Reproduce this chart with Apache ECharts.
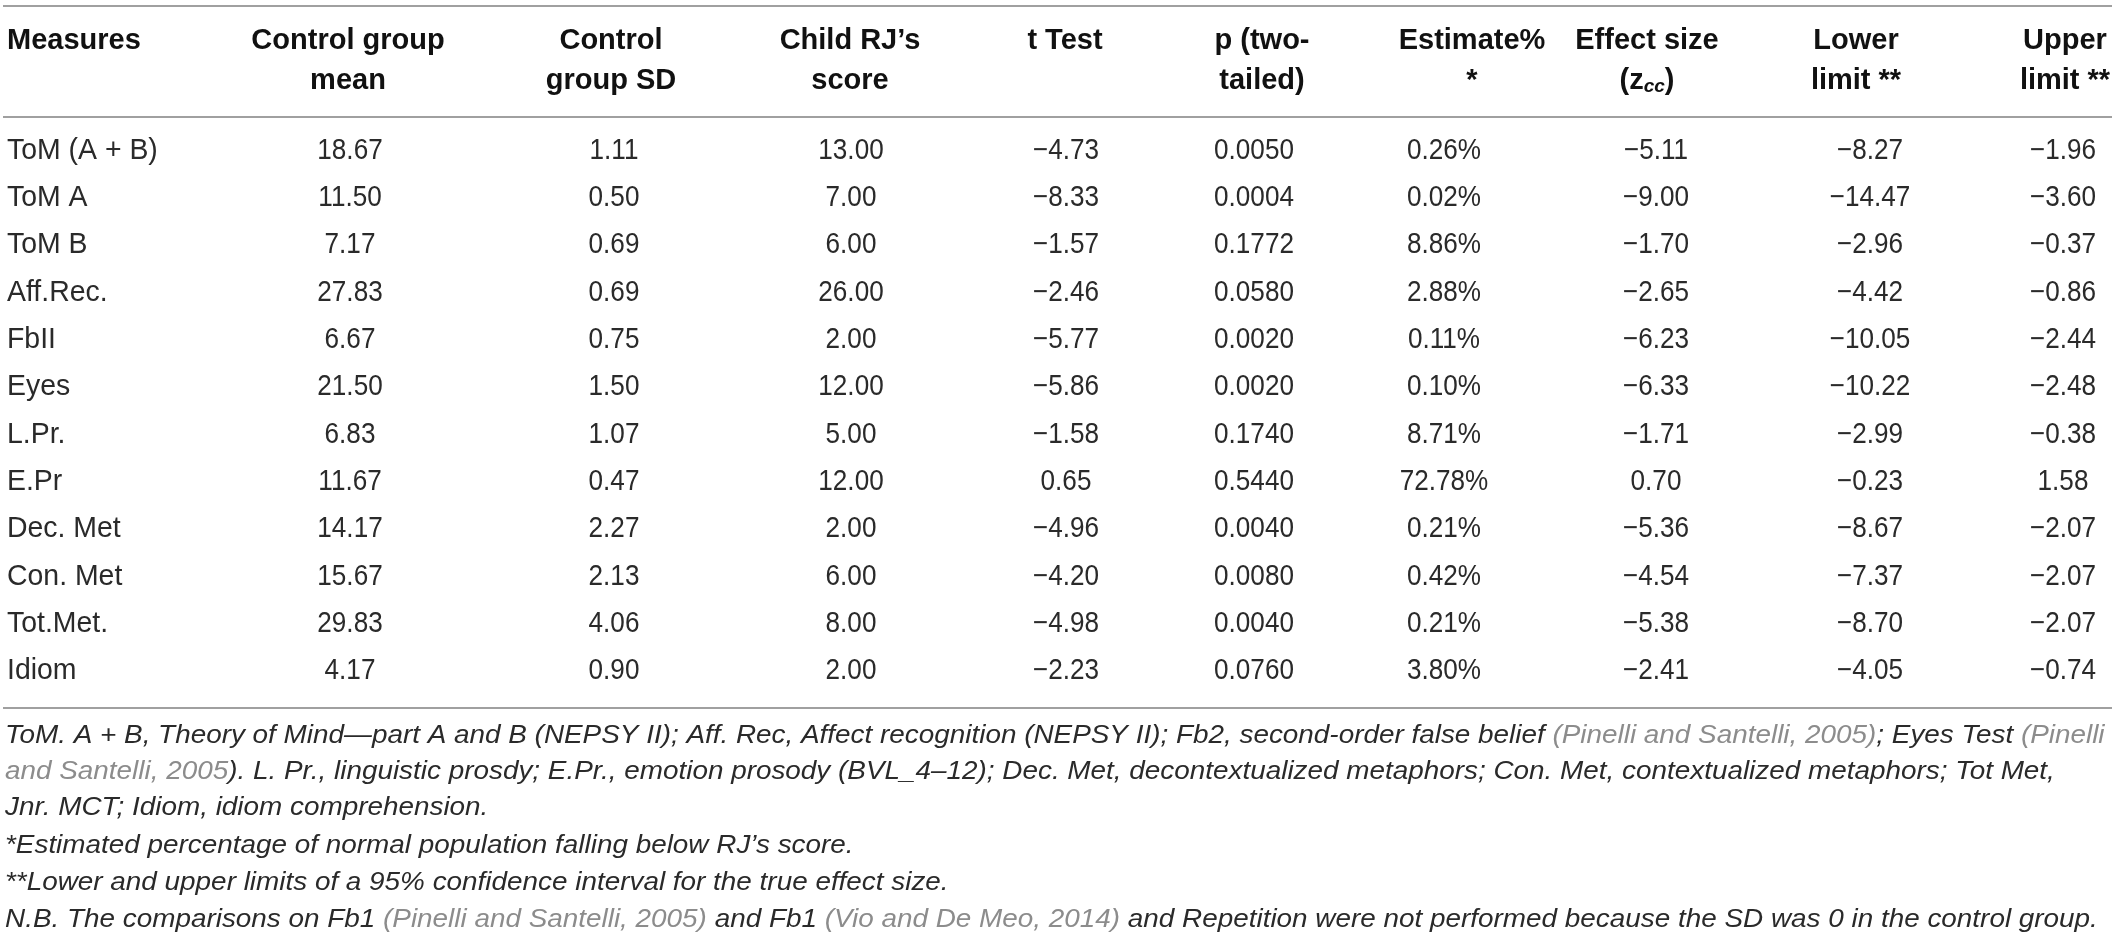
<!DOCTYPE html>
<html>
<head>
<meta charset="utf-8">
<script src="https://cdn.jsdelivr.net/npm/echarts@6/dist/echarts.min.js"></script>
<style>
  html, body { margin: 0; padding: 0; background: #fff; }
  #demo { width: 2118px; height: 943px; }
</style>
</head>
<body>
<div id="demo"></div>
<script>
// table rows
var measures = ['ToM (A + B)', 'ToM A', 'ToM B', 'Aff.Rec.', 'FbII', 'Eyes', 'L.Pr.', 'E.Pr', 'Dec. Met', 'Con. Met', 'Tot.Met.', 'Idiom'];
var ctrlMean = [18.67, 11.50, 7.17, 27.83, 6.67, 21.50, 6.83, 11.67, 14.17, 15.67, 29.83, 4.17];
var ctrlSD = [1.11, 0.50, 0.69, 0.69, 0.75, 1.50, 1.07, 0.47, 2.27, 2.13, 4.06, 0.90];
var rjScore = [13.00, 7.00, 6.00, 26.00, 2.00, 12.00, 5.00, 12.00, 2.00, 6.00, 8.00, 2.00];
var tTest = [-4.73, -8.33, -1.57, -2.46, -5.77, -5.86, -1.58, 0.65, -4.96, -4.20, -4.98, -2.23];
var pTwo = [0.0050, 0.0004, 0.1772, 0.0580, 0.0020, 0.0020, 0.1740, 0.5440, 0.0040, 0.0080, 0.0040, 0.0760];
var estimate = [0.26, 0.02, 8.86, 2.88, 0.11, 0.10, 8.71, 72.78, 0.21, 0.42, 0.21, 3.80];
var effect = [-5.11, -9.00, -1.70, -2.65, -6.23, -6.33, -1.71, 0.70, -5.36, -4.54, -5.38, -2.41];
var lowerLim = [-8.27, -14.47, -2.96, -4.42, -10.05, -10.22, -2.99, -0.23, -8.67, -7.37, -8.70, -4.05];
var upperLim = [-1.96, -3.60, -0.37, -0.86, -2.44, -2.48, -0.38, 1.58, -2.07, -2.07, -2.07, -0.74];

// layout (pixels)
var W = 2118;
var colX = [7, 350, 614, 851, 1066, 1254, 1444, 1656, 1870, 2063];
var headX = [7, 348, 611, 850, 1065, 1262, 1472, 1647, 1856, 2065];

var FONT = '"Liberation Sans", Arial, sans-serif';
var TXT = '#2a2a2a';
var GREY = '#8c8c8c';
var RULE = '#a0a0a0';

function num(d) {
    return function (v) {
        return (v < 0 ? '\u2212' : '') + Math.abs(v).toFixed(d);
    };
}
function pct(v) { return v.toFixed(2) + '%'; }

var columns = [
    { vals: measures, fmt: function (v) { return v; }, align: 'left', sx: 0.98 },
    { vals: ctrlMean, fmt: num(2) },
    { vals: ctrlSD, fmt: num(2) },
    { vals: rjScore, fmt: num(2) },
    { vals: tTest, fmt: num(2) },
    { vals: pTwo, fmt: num(4) },
    { vals: estimate, fmt: pct },
    { vals: effect, fmt: num(2) },
    { vals: lowerLim, fmt: num(2) },
    { vals: upperLim, fmt: num(2) }
];

var series = columns.map(function (col, c) {
    return {
        type: 'custom',
        silent: true,
        data: col.vals.map(function (v, i) { return [colX[c], i]; }),
        encode: { x: 0, y: 1 },
        renderItem: function (params, api) {
            var pt = api.coord([api.value(0), api.value(1)]);
            return {
                type: 'text',
                x: pt[0],
                y: pt[1],
                scaleX: col.sx || 0.9,
                style: {
                    text: col.fmt(col.vals[params.dataIndex]),
                    fill: TXT,
                    fontSize: 29,
                    fontFamily: FONT,
                    align: col.align || 'center',
                    verticalAlign: 'middle'
                }
            };
        }
    };
});

// header
var head1 = ['Measures', 'Control group', 'Control', 'Child RJ\u2019s', 't Test', 'p (two-', 'Estimate%', 'Effect size', 'Lower', 'Upper'];
var head2 = ['', 'mean', 'group SD', 'score', '', 'tailed)', '*', '({z|z}{s|cc})', 'limit **', 'limit **'];

var headStyle = { fill: '#111', fontSize: 29, fontWeight: 'bold', fontFamily: FONT, verticalAlign: 'middle' };
var graphic = [];
function addText(x, y, text, extra) {
    var st = Object.assign({}, headStyle, { text: text, align: 'center' }, extra || {});
    graphic.push({ type: 'text', x: x, y: y, style: st, silent: true });
}
head1.forEach(function (t, c) {
    addText(headX[c], 41, t, c === 0 ? { align: 'left' } : null);
});
head2.forEach(function (t, c) {
    if (!t) return;
    var extra = null;
    if (c === 7) {
        extra = {
            rich: {
                z: { fontSize: 29, fontWeight: 'bold', fontFamily: FONT, fill: '#111' },
                s: { fontSize: 19, fontWeight: 'bold', fontStyle: 'italic', fontFamily: FONT, fill: '#111', padding: [12, 0, 0, 0] }
            }
        };
    }
    addText(headX[c], 81, t, extra);
});

// rules
[6, 117, 708].forEach(function (y) {
    graphic.push({
        type: 'line', silent: true,
        shape: { x1: 3, y1: y, x2: W - 6, y2: y },
        style: { stroke: RULE, lineWidth: 2 }
    });
});

// footnotes
var noteRich = {
    g: { fill: GREY, fontSize: 25, fontStyle: 'italic', fontFamily: FONT }
};
var notes = [
    'ToM. A + B, Theory of Mind\u2014part A and B (NEPSY II); Aff. Rec, Affect recognition (NEPSY II); Fb2, second-order false belief {g|(Pinelli and Santelli, 2005)}; Eyes Test {g|(Pinelli}',
    '{g|and Santelli, 2005}). L. Pr., linguistic prosdy; E.Pr., emotion prosody (BVL_4\u201312); Dec. Met, decontextualized metaphors; Con. Met, contextualized metaphors; Tot Met,',
    'Jnr. MCT; Idiom, idiom comprehension.',
    '*Estimated percentage of normal population falling below RJ\u2019s score.',
    '**Lower and upper limits of a 95% confidence interval for the true effect size.',
    'N.B. The comparisons on Fb1 {g|(Pinelli and Santelli, 2005)} and Fb1 {g|(Vio and De Meo, 2014)} and Repetition were not performed because the SD was 0 in the control group.'
];
var noteY = [736, 772, 808, 846, 883, 920];
notes.forEach(function (t, i) {
    graphic.push({
        type: 'text', silent: true, x: 5, y: noteY[i], scaleX: 1.115,
        style: {
            text: t, fill: TXT, fontSize: 25, fontStyle: 'italic', fontFamily: FONT,
            align: 'left', verticalAlign: 'middle', rich: noteRich
        }
    });
});

var mychar = echarts.init(document.getElementById('demo'));
mychar.setOption({
    backgroundColor: '#fff',
    animation: false,
    grid: { left: 0, right: 0, top: 127, bottom: 248 },
    xAxis: { type: 'value', min: 0, max: W, show: false },
    yAxis: { type: 'category', data: measures, inverse: true, show: false },
    series: series,
    graphic: graphic
});
</script>
</body>
</html>
